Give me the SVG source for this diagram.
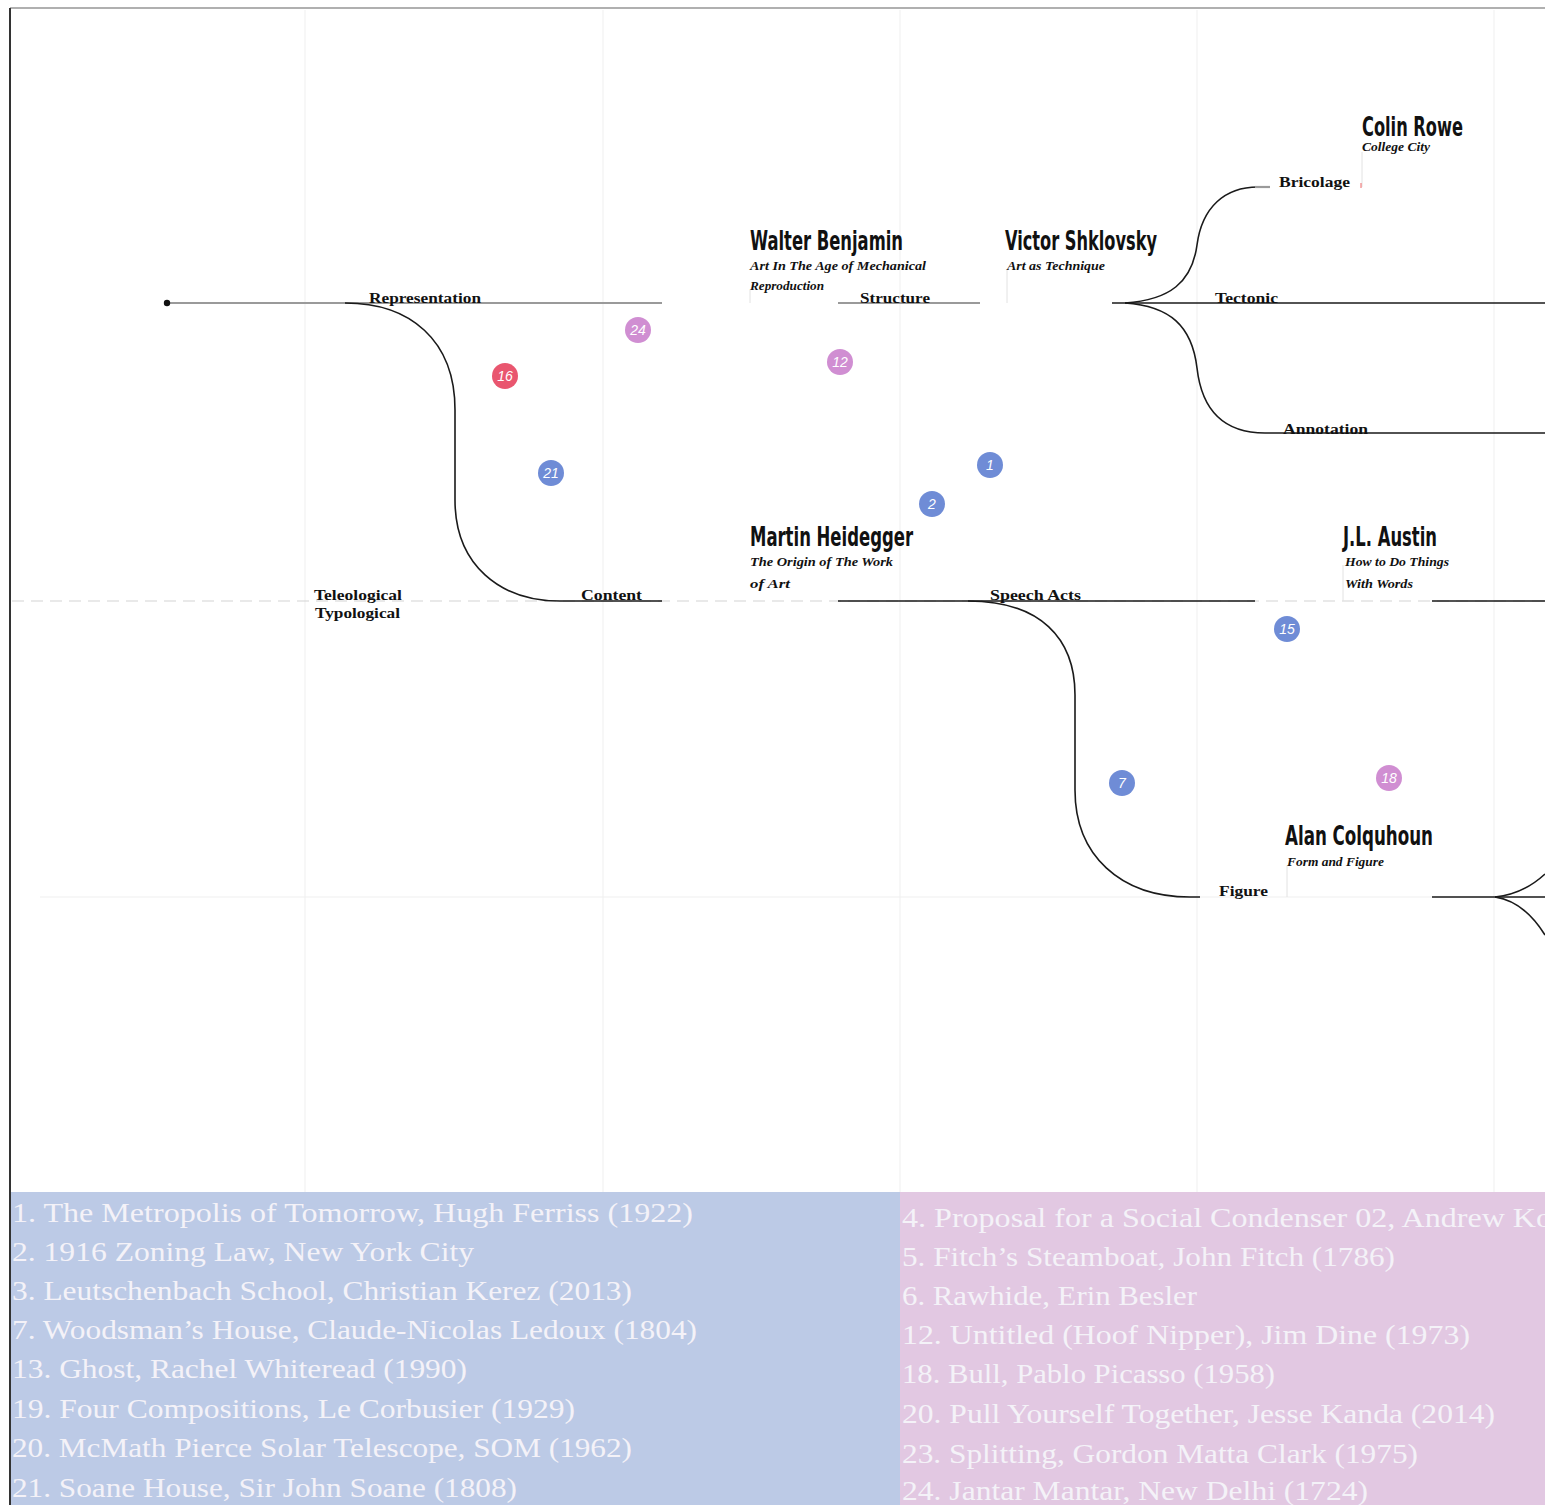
<svg xmlns="http://www.w3.org/2000/svg" width="1545" height="1505" viewBox="0 0 1545 1505">
<style>
.grid{stroke:#efefef;stroke-width:1;fill:none}
.main{stroke:#1a1a1a;stroke-width:1.6;fill:none}
.gray{stroke:#9a9a9a;stroke-width:2.2;fill:none}
.dash{stroke:#d4d4d4;stroke-width:1.2;stroke-dasharray:12 7;fill:none}
.tick{stroke:#e2e2e2;stroke-width:1;fill:none}
.name{font-family:"Liberation Sans Narrow","DejaVu Sans Condensed","Roboto Condensed",sans-serif;font-size:26px;fill:#111;font-weight:bold}
.sub{font-family:"Liberation Serif",serif;font-style:italic;font-weight:bold;font-size:12px;fill:#111}
.edge{font-family:"Liberation Serif",serif;font-weight:bold;font-size:15px;fill:#111}
.num{font-family:"Liberation Sans",sans-serif;font-style:italic;font-size:14px;fill:#fff;text-anchor:middle}
.leg{font-family:"Liberation Serif",serif;font-size:27px;fill:#f4f2f8}
.blue{fill:#6f8cd6}
.pink{fill:#d08ed2}
.red{fill:#e9566f}
</style>
<rect width="1545" height="1505" fill="#fff"/>
<g id="grid">
<line class="grid" x1="305" y1="10" x2="305" y2="1192"/>
<line class="grid" x1="603" y1="10" x2="603" y2="1192"/>
<line class="grid" x1="900" y1="10" x2="900" y2="1192"/>
<line class="grid" x1="1197" y1="10" x2="1197" y2="1192"/>
<line class="grid" x1="1494" y1="10" x2="1494" y2="1192"/>
<line class="grid" x1="40" y1="897" x2="1545" y2="897"/>
</g>
<g id="frame">
<line x1="10" y1="8" x2="1545" y2="8" stroke="#b0b0b0" stroke-width="2"/>
<line x1="10" y1="8" x2="10" y2="1505" stroke="#333" stroke-width="2"/>
</g>
<g id="connectors">
<line class="dash" x1="12" y1="601" x2="1545" y2="601"/>
<line class="gray" x1="167" y1="303" x2="662" y2="303"/>
<circle cx="167" cy="303" r="3.2" fill="#111"/>
<path class="main" d="M345 303 C410 303 455 340 455 410 L455 500 C455 565 500 601 560 601 L662 601"/>
<line class="gray" x1="838" y1="303" x2="980" y2="303"/>
<line class="main" x1="1112" y1="303" x2="1545" y2="303"/>
<path class="main" d="M1125 303 C1170 300 1192 282 1197 245 C1202 207 1225 187 1258 187"/>
<line class="gray" x1="1255" y1="187" x2="1270" y2="187" stroke-width="1.5"/>
<path class="main" d="M1125 303 C1170 306 1192 326 1197 368 C1202 412 1225 433 1265 433 L1545 433"/>
<line class="main" x1="838" y1="601" x2="1255" y2="601"/>
<line class="main" x1="1432" y1="601" x2="1545" y2="601"/>
<path class="main" d="M968 601 C1040 601 1075 638 1075 695 L1075 790 C1075 855 1120 897 1190 897 L1200 897"/>
<line class="main" x1="1432" y1="897" x2="1545" y2="897"/>
<path class="main" d="M1495 897 C1515 895 1532 886 1545 874"/>
<path class="main" d="M1495 897 C1515 900 1532 914 1545 935"/>
<line class="tick" x1="750" y1="290" x2="750" y2="303"/>
<line class="tick" x1="1007" y1="270" x2="1007" y2="303"/>
<line class="tick" x1="1362" y1="152" x2="1362" y2="187"/>
<line x1="1361" y1="183" x2="1361" y2="188" stroke="#e66" stroke-width="1"/>
<line class="tick" x1="1343" y1="565" x2="1343" y2="601"/>
<line class="tick" x1="1287" y1="866" x2="1287" y2="897"/>
</g>
<g id="edge-labels">
<text class="edge" x="369" y="303" textLength="112" lengthAdjust="spacingAndGlyphs">Representation</text>
<text class="edge" x="860" y="303" textLength="70" lengthAdjust="spacingAndGlyphs">Structure</text>
<text class="edge" x="1215" y="303" textLength="63" lengthAdjust="spacingAndGlyphs">Tectonic</text>
<text class="edge" x="1279" y="187" textLength="71" lengthAdjust="spacingAndGlyphs">Bricolage</text>
<text class="edge" x="1283" y="434" textLength="85" lengthAdjust="spacingAndGlyphs">Annotation</text>
<text class="edge" x="314" y="600" textLength="88" lengthAdjust="spacingAndGlyphs">Teleological</text>
<text class="edge" x="315" y="618" textLength="85" lengthAdjust="spacingAndGlyphs">Typological</text>
<text class="edge" x="581" y="600" textLength="61" lengthAdjust="spacingAndGlyphs">Content</text>
<text class="edge" x="990" y="600" textLength="91" lengthAdjust="spacingAndGlyphs">Speech Acts</text>
<text class="edge" x="1219" y="896" textLength="49" lengthAdjust="spacingAndGlyphs">Figure</text>
</g>
<g id="node-benjamin">
<text class="name" x="750" y="250" textLength="153" lengthAdjust="spacingAndGlyphs">Walter Benjamin</text>
<text class="sub" x="750" y="270" textLength="176" lengthAdjust="spacingAndGlyphs">Art In The Age of Mechanical</text>
<text class="sub" x="750" y="290" textLength="74" lengthAdjust="spacingAndGlyphs">Reproduction</text>
</g>
<g id="node-shklovsky">
<text class="name" x="1005" y="250" textLength="152" lengthAdjust="spacingAndGlyphs">Victor Shklovsky</text>
<text class="sub" x="1007" y="270" textLength="98" lengthAdjust="spacingAndGlyphs">Art as Technique</text>
</g>
<g id="node-rowe">
<text class="name" x="1362" y="136" textLength="101" lengthAdjust="spacingAndGlyphs">Colin Rowe</text>
<text class="sub" x="1362" y="151" font-size="10" textLength="68" lengthAdjust="spacingAndGlyphs">College City</text>
</g>
<g id="node-heidegger">
<text class="name" x="750" y="546" textLength="163" lengthAdjust="spacingAndGlyphs">Martin Heidegger</text>
<text class="sub" x="750" y="566" textLength="143" lengthAdjust="spacingAndGlyphs">The Origin of The Work</text>
<text class="sub" x="750" y="588" textLength="40" lengthAdjust="spacingAndGlyphs">of Art</text>
</g>
<g id="node-austin">
<text class="name" x="1343" y="546" textLength="94" lengthAdjust="spacingAndGlyphs">J.L. Austin</text>
<text class="sub" x="1345" y="566" textLength="104" lengthAdjust="spacingAndGlyphs">How to Do Things</text>
<text class="sub" x="1345" y="588" textLength="68" lengthAdjust="spacingAndGlyphs">With Words</text>
</g>
<g id="node-colquhoun">
<text class="name" x="1285" y="845" textLength="148" lengthAdjust="spacingAndGlyphs">Alan Colquhoun</text>
<text class="sub" x="1287" y="866" textLength="97" lengthAdjust="spacingAndGlyphs">Form and Figure</text>
</g>
<g id="marker-24"><circle class="pink" cx="638" cy="330" r="13"/><text class="num" x="638" y="335">24</text></g>
<g id="marker-16"><circle class="red" cx="505" cy="376" r="13"/><text class="num" x="505" y="381">16</text></g>
<g id="marker-12"><circle class="pink" cx="840" cy="362" r="13"/><text class="num" x="840" y="367">12</text></g>
<g id="marker-21"><circle class="blue" cx="551" cy="473" r="13"/><text class="num" x="551" y="478">21</text></g>
<g id="marker-1"><circle class="blue" cx="990" cy="465" r="13"/><text class="num" x="990" y="470">1</text></g>
<g id="marker-2"><circle class="blue" cx="932" cy="504" r="13"/><text class="num" x="932" y="509">2</text></g>
<g id="marker-15"><circle class="blue" cx="1287" cy="629" r="13"/><text class="num" x="1287" y="634">15</text></g>
<g id="marker-7"><circle class="blue" cx="1122" cy="783" r="13"/><text class="num" x="1122" y="788">7</text></g>
<g id="marker-18"><circle class="pink" cx="1389" cy="778" r="13"/><text class="num" x="1389" y="783">18</text></g>
<g id="legend-blue">
<rect x="11" y="1192" width="889" height="313" fill="#bccae6"/>
<text class="leg" x="12" y="1222" textLength="681" lengthAdjust="spacingAndGlyphs">1. The Metropolis of Tomorrow, Hugh Ferriss (1922)</text>
<text class="leg" x="12" y="1261" textLength="462" lengthAdjust="spacingAndGlyphs">2. 1916 Zoning Law, New York City</text>
<text class="leg" x="12" y="1300" textLength="620" lengthAdjust="spacingAndGlyphs">3. Leutschenbach School, Christian Kerez (2013)</text>
<text class="leg" x="12" y="1339" textLength="685" lengthAdjust="spacingAndGlyphs">7. Woodsman’s House, Claude-Nicolas Ledoux (1804)</text>
<text class="leg" x="12" y="1378" textLength="455" lengthAdjust="spacingAndGlyphs">13. Ghost, Rachel Whiteread (1990)</text>
<text class="leg" x="12" y="1418" textLength="563" lengthAdjust="spacingAndGlyphs">19. Four Compositions, Le Corbusier (1929)</text>
<text class="leg" x="12" y="1457" textLength="620" lengthAdjust="spacingAndGlyphs">20. McMath Pierce Solar Telescope, SOM (1962)</text>
<text class="leg" x="12" y="1497" textLength="505" lengthAdjust="spacingAndGlyphs">21. Soane House, Sir John Soane (1808)</text>
</g>
<g id="legend-pink">
<rect x="900" y="1192" width="645" height="313" fill="#e2c8e2"/>
<text class="leg" x="902" y="1227" textLength="650" lengthAdjust="spacingAndGlyphs">4. Proposal for a Social Condenser 02, Andrew Ko</text>
<text class="leg" x="902" y="1266" textLength="493" lengthAdjust="spacingAndGlyphs">5. Fitch’s Steamboat, John Fitch (1786)</text>
<text class="leg" x="902" y="1305" textLength="295" lengthAdjust="spacingAndGlyphs">6. Rawhide, Erin Besler</text>
<text class="leg" x="902" y="1344" textLength="568" lengthAdjust="spacingAndGlyphs">12. Untitled (Hoof Nipper), Jim Dine (1973)</text>
<text class="leg" x="902" y="1383" textLength="373" lengthAdjust="spacingAndGlyphs">18. Bull, Pablo Picasso (1958)</text>
<text class="leg" x="902" y="1423" textLength="593" lengthAdjust="spacingAndGlyphs">20. Pull Yourself Together, Jesse Kanda (2014)</text>
<text class="leg" x="902" y="1463" textLength="516" lengthAdjust="spacingAndGlyphs">23. Splitting, Gordon Matta Clark (1975)</text>
<text class="leg" x="902" y="1500" textLength="466" lengthAdjust="spacingAndGlyphs">24. Jantar Mantar, New Delhi (1724)</text>
</g>
</svg>
